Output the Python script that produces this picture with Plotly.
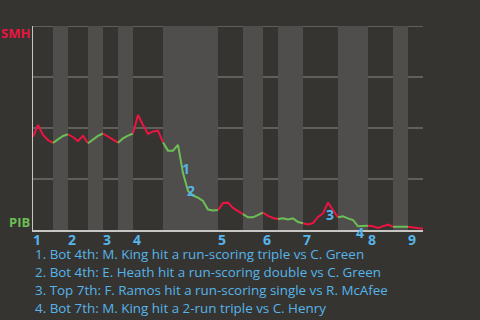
import plotly.graph_objects as go

# ---- data ----
away_team = "SMH"
home_team = "PIB"
innings = ["1", "2", "3", "4", "5", "6", "7", "8", "9"]
# plate appearances per half inning (top1, bot1, top2, ...)
half_pa = [4, 3, 4, 3, 3, 3, 6, 11, 5, 4, 3, 5, 7, 6, 5, 3, 3]
# SMH win probability after each plate appearance (index 0 = game start)
win_prob = [
    0.457, 0.515, 0.466, 0.440, 0.427,          # top 1
    0.446, 0.461, 0.469,                        # bot 1
    0.456, 0.436, 0.462, 0.425,                 # top 2
    0.444, 0.461, 0.473,                        # bot 2
    0.458, 0.444, 0.428,                        # top 3
    0.449, 0.463, 0.473,                        # bot 3
    0.564, 0.515, 0.471, 0.483, 0.487, 0.429,   # top 4
    0.389, 0.389, 0.417, 0.279, 0.191, 0.169, 0.159, 0.142, 0.100, 0.096, 0.098,  # bot 4
    0.132, 0.134, 0.108, 0.093, 0.078,          # top 5
    0.062, 0.062, 0.074, 0.085,                 # bot 5
    0.069, 0.059, 0.054,                        # top 6
    0.057, 0.052, 0.057, 0.039, 0.033,          # bot 6
    0.027, 0.034, 0.064, 0.082, 0.134, 0.098, 0.062,  # top 7
    0.067, 0.057, 0.049, 0.018, 0.020, 0.021,   # bot 7
    0.018, 0.010, 0.020, 0.027, 0.016,          # top 8
    0.016, 0.016, 0.016,                        # bot 8
    0.012, 0.007, 0.006,                        # top 9
]
# key events: plate appearance index and description
event_idx = [30, 31, 59, 65]
event_text = [
    "Bot 4th: M. King hit a run-scoring triple vs C. Green",
    "Bot 4th: E. Heath hit a run-scoring double vs C. Green",
    "Top 7th: F. Ramos hit a run-scoring single vs R. McAfee",
    "Bot 7th: M. King hit a 2-run triple vs C. Henry",
]
grid_vals = [0.25, 0.5, 0.75, 1.0]

# ---- style ----
BG = "#363431"
BAND = "#504e4c"
GRID = "#8c8a88"
AXIS = "#c8c6c4"
RED = "#ec1440"
GREEN = "#6cbf55"
BLUE = "#55b4ea"
FONT = "Open Sans"
# label offsets (px) for each event marker
event_shift = [(3, 5), (3, 1), (2, -12), (2, -6)]

fig = go.Figure()

# half-inning boundaries
bounds = [0]
for n in half_pa:
    bounds.append(bounds[-1] + n)
n_pa = bounds[-1]

shapes = []
for h in range(len(half_pa)):
    if h % 2 == 1:
        shapes.append(dict(type="rect", xref="x", yref="y", x0=bounds[h], x1=bounds[h + 1],
                           y0=0, y1=1, fillcolor=BAND, line=dict(width=0), layer="below"))
for g in grid_vals:
    shapes.append(dict(type="line", xref="paper", yref="y", x0=0, x1=1, y0=g, y1=g,
                       line=dict(color=GRID, width=1), layer="below"))

for h in range(len(half_pa)):
    xs = list(range(bounds[h], bounds[h + 1] + 1))
    ys = [win_prob[i] for i in xs]
    fig.add_trace(go.Scatter(x=xs, y=ys, mode="lines",
                             line=dict(color=RED if h % 2 == 0 else GREEN, width=2),
                             hoverinfo="skip", showlegend=False))

annotations = []
# team labels
annotations.append(dict(xref="paper", yref="y", x=0, y=0.965, xanchor="right", yanchor="middle",
                        xshift=-1, text=f"<b>{away_team}</b>", showarrow=False,
                        font=dict(family=FONT, size=13, color=RED)))
annotations.append(dict(xref="paper", yref="y", x=0, y=0.04, xanchor="right", yanchor="middle",
                        xshift=-1, text=f"<b>{home_team}</b>", showarrow=False,
                        font=dict(family=FONT, size=13, color=GREEN)))
# inning labels
for k, lab in enumerate(innings):
    annotations.append(dict(xref="x", yref="paper", x=bounds[2 * k], y=0, xanchor="left",
                            yanchor="middle", yshift=-9, xshift=-1, text=f"<b>{lab}</b>",
                            showarrow=False, borderpad=0,
                            font=dict(family=FONT, size=14, color=BLUE)))
# event markers
for k, i in enumerate(event_idx):
    dx, dy = event_shift[k]
    annotations.append(dict(xref="x", yref="y", x=i, y=win_prob[i], xanchor="center",
                            yanchor="middle", xshift=dx, yshift=dy, text=f"<b>{k + 1}</b>",
                            showarrow=False, borderpad=0,
                            font=dict(family=FONT, size=14, color=BLUE)))
# event descriptions
for k, t in enumerate(event_text):
    annotations.append(dict(xref="paper", yref="paper", x=0, y=0, xanchor="left", yanchor="middle",
                            xshift=1, yshift=-(24 + 18 * k), text=f"{k + 1}. {t}",
                            showarrow=False, borderpad=0,
                            font=dict(family=FONT, size=13.4, color=BLUE)))

fig.update_layout(
    width=480, height=320,
    margin=dict(l=33, r=57, t=26, b=90),
    paper_bgcolor=BG, plot_bgcolor=BG,
    shapes=shapes, annotations=annotations,
    xaxis=dict(range=[0, n_pa], showgrid=False, zeroline=False, showticklabels=False,
               showline=True, linecolor=AXIS, linewidth=2, ticks=""),
    yaxis=dict(range=[0, 1], showgrid=False, zeroline=False, showticklabels=False,
               showline=True, linecolor=AXIS, linewidth=1, ticks=""),
    showlegend=False,
)

fig.write_html("out.html")
